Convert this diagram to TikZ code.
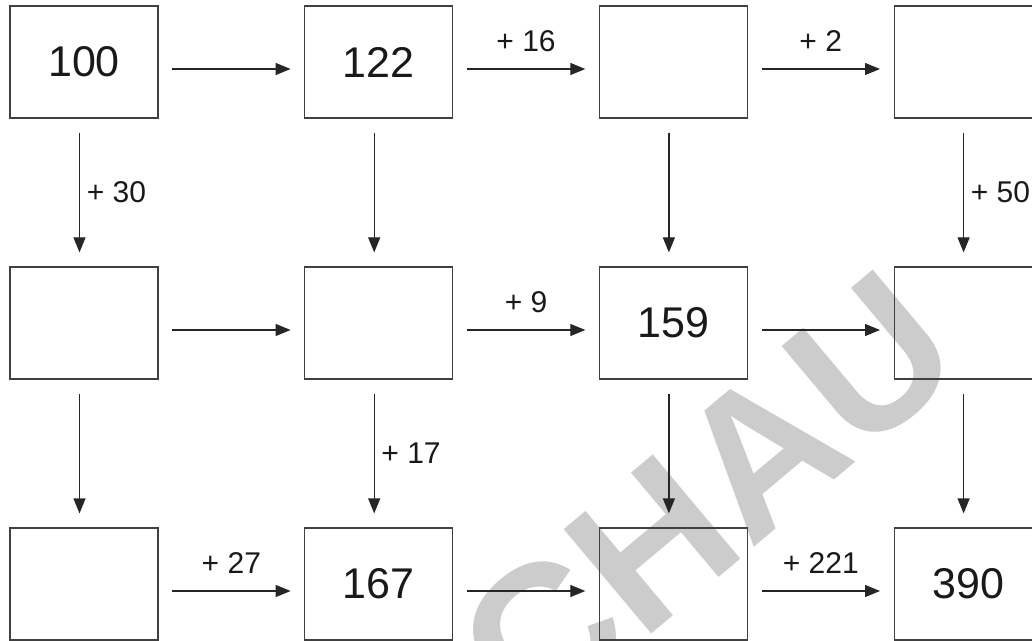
\documentclass[tikz,border=0pt]{standalone}
\usepackage{fontspec}
\setmainfont{Liberation Sans}
\usepackage{xcolor}
\usetikzlibrary{calc}
\usetikzlibrary{arrows.meta}
\usetikzlibrary{positioning}

\begin{document}
\begin{tikzpicture}
% 1px = 0.5pt
    \def\XSTART{42pt}
    \def\YSTART{-31pt}
    \def\XGAP{147.35pt} % column pitch
    \def\YGAP{130.5pt} % row pitch
    \def\ARRX{6.75pt} % gap box -> arrow, horizontal
    \def\ARRY{-3.5pt} % arrows sit a bit below the middle
    \def\ARRV{7pt} % gap box -> arrow, vertical
    \def\ARRXV{-2.25pt}

    \tikzset{
      numbox/.style={draw=black!75, line width=0.6pt,
        minimum width=74pt, minimum height=56pt, inner sep=0pt,
        font=\fontsize{21.5}{24}\selectfont, text=black!90},
      hop/.style={-{Triangle[width=6pt,length=7.5pt]},
        line width=0.6pt, color=black!85},
      hoplabel/.style={font=\fontsize{15}{18}\selectfont, text=black!90},
      watermark/.style={font=\fontsize{99}{110}\selectfont\bfseries,
        text=black!20, rotate=40},
    }

    \useasboundingbox (0,0) rectangle (516pt,-320.5pt);
    \clip (0,0) rectangle (516pt,-320.5pt);

    % WATERMARK
    \node[watermark] (wm) at (353.5pt,-249pt) {CHAU};

    % FIRST ROW
    \node[numbox] (R1C1) at (\XSTART,\YSTART) {100};
    \node[numbox] (R1C2) at ({\XSTART+\XGAP},\YSTART) {122};
    \node[numbox] (R1C3) at ({\XSTART+2*\XGAP},\YSTART) {};
    \node[numbox] (R1C4) at ({\XSTART+3*\XGAP},\YSTART) {};

    % SECOND ROW
    \node[numbox] (R2C1) at (\XSTART,{\YSTART-\YGAP}) {};
    \node[numbox] (R2C2) at ({\XSTART+\XGAP},{\YSTART-\YGAP}) {};
    \node[numbox] (R2C3) at ({\XSTART+2*\XGAP},{\YSTART-\YGAP}) {159};
    \node[numbox] (R2C4) at ({\XSTART+3*\XGAP},{\YSTART-\YGAP}) {};

    % THIRD ROW
    \node[numbox] (R3C1) at (\XSTART,{\YSTART-2*\YGAP}) {};
    \node[numbox] (R3C2) at ({\XSTART+\XGAP},{\YSTART-2*\YGAP}) {167};
    \node[numbox] (R3C3) at ({\XSTART+2*\XGAP},{\YSTART-2*\YGAP}) {};
    \node[numbox] (R3C4) at ({\XSTART+3*\XGAP},{\YSTART-2*\YGAP}) {390};

    % ARROWS ALONG THE ROWS
    \draw[hop] ([xshift=\ARRX,yshift=\ARRY]R1C1.east) -- ([xshift=-\ARRX,yshift=\ARRY]R1C2.west);
    \draw[hop] ([xshift=\ARRX,yshift=\ARRY]R1C2.east) -- ([xshift=-\ARRX,yshift=\ARRY]R1C3.west)
        node[hoplabel, midway, above=5pt] {+ 16};
    \draw[hop] ([xshift=\ARRX,yshift=\ARRY]R1C3.east) -- ([xshift=-\ARRX,yshift=\ARRY]R1C4.west)
        node[hoplabel, midway, above=5pt] {+ 2};

    \draw[hop] ([xshift=\ARRX,yshift=\ARRY]R2C1.east) -- ([xshift=-\ARRX,yshift=\ARRY]R2C2.west);
    \draw[hop] ([xshift=\ARRX,yshift=\ARRY]R2C2.east) -- ([xshift=-\ARRX,yshift=\ARRY]R2C3.west)
        node[hoplabel, midway, above=5pt] {+ 9};
    \draw[hop] ([xshift=\ARRX,yshift=\ARRY]R2C3.east) -- ([xshift=-\ARRX,yshift=\ARRY]R2C4.west);

    \draw[hop] ([xshift=\ARRX,yshift=\ARRY]R3C1.east) -- ([xshift=-\ARRX,yshift=\ARRY]R3C2.west)
        node[hoplabel, midway, above=5pt] {+ 27};
    \draw[hop] ([xshift=\ARRX,yshift=\ARRY]R3C2.east) -- ([xshift=-\ARRX,yshift=\ARRY]R3C3.west);
    \draw[hop] ([xshift=\ARRX,yshift=\ARRY]R3C3.east) -- ([xshift=-\ARRX,yshift=\ARRY]R3C4.west)
        node[hoplabel, midway, above=5pt] {+ 221};

    % ARROWS DOWN THE COLUMNS
    \draw[hop] ([xshift=\ARRXV,yshift=-\ARRV]R1C1.south) -- ([xshift=\ARRXV,yshift=\ARRV]R2C1.north)
        node[hoplabel, midway, right=0pt] {+ 30};
    \draw[hop] ([xshift=\ARRXV,yshift=-\ARRV]R1C2.south) -- ([xshift=\ARRXV,yshift=\ARRV]R2C2.north);
    \draw[hop] ([xshift=\ARRXV,yshift=-\ARRV]R1C3.south) -- ([xshift=\ARRXV,yshift=\ARRV]R2C3.north);
    \draw[hop] ([xshift=\ARRXV,yshift=-\ARRV]R1C4.south) -- ([xshift=\ARRXV,yshift=\ARRV]R2C4.north)
        node[hoplabel, midway, right=0pt] {+ 50};

    \draw[hop] ([xshift=\ARRXV,yshift=-\ARRV]R2C1.south) -- ([xshift=\ARRXV,yshift=\ARRV]R3C1.north);
    \draw[hop] ([xshift=\ARRXV,yshift=-\ARRV]R2C2.south) -- ([xshift=\ARRXV,yshift=\ARRV]R3C2.north)
        node[hoplabel, midway, right=0pt] {+ 17};
    \draw[hop] ([xshift=\ARRXV,yshift=-\ARRV]R2C3.south) -- ([xshift=\ARRXV,yshift=\ARRV]R3C3.north);
    \draw[hop] ([xshift=\ARRXV,yshift=-\ARRV]R2C4.south) -- ([xshift=\ARRXV,yshift=\ARRV]R3C4.north);

\end{tikzpicture}
\end{document}
